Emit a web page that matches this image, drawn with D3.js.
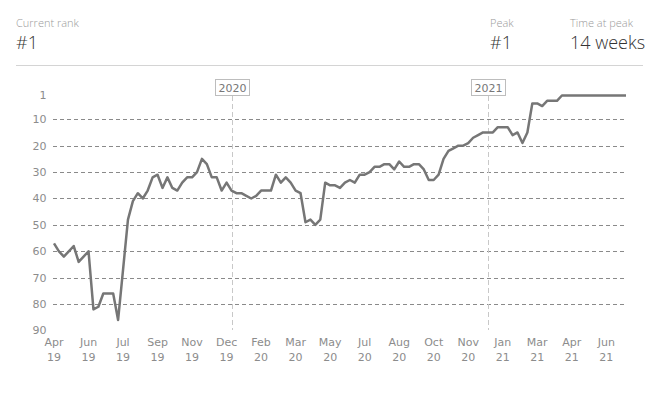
<!DOCTYPE html>
<html>
<head>
<meta charset="utf-8">
<script src="https://cdn.jsdelivr.net/npm/d3@7"></script>
<style>
	body { margin: 0; background: #fff; }
	.statLabel { font-family: "Open Sans", sans-serif; font-size: 11px; fill: #9a9a9a; font-weight: 300; }
	.statValue { font-family: "Open Sans", sans-serif; font-size: 18px; fill: #333; font-weight: 300; }
	.axisText { font-family: "DejaVu Sans", Verdana, sans-serif; font-size: 11px; fill: #8c8c8c; }
	.gridLine { stroke: #8a8a8a; stroke-width: 1; stroke-dasharray: 4,3; }
	.yearLine { stroke: #c8c8c8; stroke-width: 1; stroke-dasharray: 5,3; }
	.yearBox { fill: #fff; stroke: #bdbdbd; stroke-width: 1; }
	.yearText { font-family: "DejaVu Sans", Verdana, sans-serif; font-size: 11px; fill: #777; }
	.rankLine { fill: none; stroke: #767676; stroke-width: 2.5; stroke-linejoin: round; }
</style>
</head>
<body>
<div id="chart"></div>
<script>
//--------------------------------- Data ---------------------------------------

//Weekly chart position, first chart week 20 Apr 2019
var firstWeek = new Date(2019, 3, 20);
var ranks = [57, 60, 62, 60, 58, 64, 62, 60, 82, 81, 76, 76, 76, 86, 67, 48, 41, 38, 40, 37,
	32, 31, 36, 32, 36, 37, 34, 32, 32, 30, 25, 27, 32, 32, 37, 34, 37, 38, 38, 39,
	40, 39, 37, 37, 37, 31, 34, 32, 34, 37, 38, 49, 48, 50, 48, 34, 35, 35, 36, 34,
	33, 34, 31, 31, 30, 28, 28, 27, 27, 29, 26, 28, 28, 27, 27, 29, 33, 33, 31, 25,
	22, 21, 20, 20, 19, 17, 16, 15, 15, 15, 13, 13, 13, 16, 15, 19, 15, 4, 4, 5,
	3, 3, 3, 1, 1, 1, 1, 1, 1, 1, 1, 1, 1, 1, 1, 1, 1];
var rankTicks = [1, 10, 20, 30, 40, 50, 60, 70, 80, 90];
var gridRanks = [10, 20, 30, 40, 50, 60, 70, 80];

var stats = [
	{label: "Current rank", value: "#1", x: 16},
	{label: "Peak", value: "#1", x: 490},
	{label: "Time at peak", value: "14 weeks", x: 570}
];

var weeks = ranks.map(function(r, i) {
	return {date: d3.timeWeek.offset(firstWeek, i), rank: r};
});

//--------------------------------- Set up svg ---------------------------------------

var width = 660,
	height = 393;

var svg = d3.select("#chart")
	.append("svg")
	.attr("width", width)
	.attr("height", height);

//--------------------------------- Header stats ---------------------------------------

var statWrapper = svg.selectAll(".stat")
	.data(stats)
	.enter().append("g")
	.attr("class", "stat")
	.attr("transform", function(d) { return "translate(" + d.x + ",0)"; });

statWrapper.append("text")
	.attr("class", "statLabel")
	.attr("y", 27)
	.text(function(d) { return d.label; });

statWrapper.append("text")
	.attr("class", "statValue")
	.attr("y", 49)
	.text(function(d) { return d.value; });

svg.append("line")
	.attr("x1", 16).attr("x2", 643)
	.attr("y1", 65.5).attr("y2", 65.5)
	.style("stroke", "#d4d4d4");

//--------------------------------- Scales ---------------------------------------

var x = d3.scaleTime()
	.domain(d3.extent(weeks, function(d) { return d.date; }))
	.range([54, 626]);

var y = d3.scaleLinear()
	.domain([1, 90])
	.range([95.5, 330.5]);

//--------------------------------- Grid and axes ---------------------------------------

svg.selectAll(".gridLine")
	.data(gridRanks)
	.enter().append("line")
	.attr("class", "gridLine")
	.attr("x1", 53)
	.attr("x2", 626)
	.attr("y1", function(d) { return Math.round(y(d)) + 0.5; })
	.attr("y2", function(d) { return Math.round(y(d)) + 0.5; });

svg.selectAll(".yLabel")
	.data(rankTicks)
	.enter().append("text")
	.attr("class", "axisText")
	.attr("x", 46.5)
	.attr("y", function(d) { return y(d); })
	.attr("dy", "0.36em")
	.style("text-anchor", "end")
	.text(function(d) { return d; });

//A tick every 7 weeks
var tickWeeks = weeks.filter(function(d, i) { return i % 7 === 0; });

var xLabels = svg.selectAll(".xLabel")
	.data(tickWeeks)
	.enter().append("text")
	.attr("class", "axisText")
	.style("text-anchor", "middle")
	.attr("transform", function(d) { return "translate(" + x(d.date) + ",0)"; });

xLabels.append("tspan")
	.attr("x", 0)
	.attr("y", 345.5)
	.text(function(d) { return d3.timeFormat("%b")(d.date); });

xLabels.append("tspan")
	.attr("x", 0)
	.attr("y", 360.5)
	.text(function(d) { return d3.timeFormat("%y")(d.date); });

//--------------------------------- Year markers ---------------------------------------

//Marker on the last chart week before the year changes
var yearMarks = weeks.filter(function(d, i) {
	return i < weeks.length - 1 && weeks[i + 1].date.getFullYear() !== d.date.getFullYear();
});

var yearWrapper = svg.selectAll(".yearMark")
	.data(yearMarks)
	.enter().append("g")
	.attr("class", "yearMark")
	.attr("transform", function(d) { return "translate(" + (Math.round(x(d.date)) + 0.5) + ",0)"; });

yearWrapper.append("line")
	.attr("class", "yearLine")
	.attr("y1", 96)
	.attr("y2", 330);

yearWrapper.append("rect")
	.attr("class", "yearBox")
	.attr("x", -17)
	.attr("y", 79.5)
	.attr("width", 34)
	.attr("height", 16);

yearWrapper.append("text")
	.attr("class", "yearText")
	.attr("y", 91.5)
	.style("text-anchor", "middle")
	.text(function(d) { return d.date.getFullYear() + 1; });

//--------------------------------- Rank line ---------------------------------------

var line = d3.line()
	.x(function(d) { return x(d.date); })
	.y(function(d) { return y(d.rank); });

svg.append("path")
	.datum(weeks)
	.attr("class", "rankLine")
	.attr("d", line);
</script>
</body>
</html>
